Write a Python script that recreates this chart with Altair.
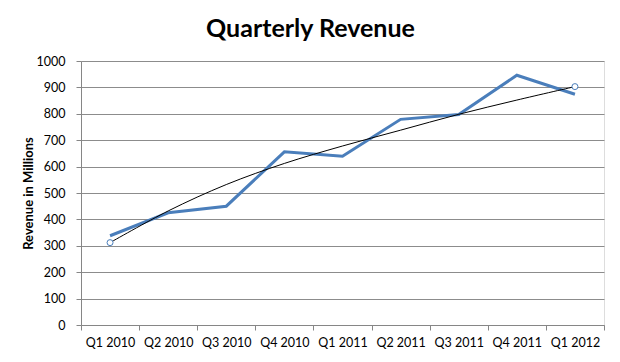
import altair as alt
import pandas as pd

quarters = ["Q1 2010", "Q2 2010", "Q3 2010", "Q4 2010", "Q1 2011",
            "Q2 2011", "Q3 2011", "Q4 2011", "Q1 2012"]
revenue = [338, 425, 450, 656, 639, 779, 797, 946, 874]
trend = [312, 432, 532, 612, 678, 738, 798, 852, 903]
trend_marker_quarters = ["Q1 2010", "Q1 2012"]
trend_marker_values = [312, 903]

rev_df = pd.DataFrame({"quarter": quarters, "value": revenue})
trend_df = pd.DataFrame({"quarter": quarters, "value": trend})
mark_df = pd.DataFrame({"quarter": trend_marker_quarters, "value": trend_marker_values})

FONT = "Lato"

x_enc = alt.X("quarter:N", sort=quarters,
              scale=alt.Scale(type="band", paddingInner=0, paddingOuter=0),
              axis=alt.Axis(title=None, tickBand="extent", grid=False,
                            domainColor="#868686", tickColor="#868686",
                            tickSize=5, labelPadding=6, labelFontSize=12.5,
                            labelColor="#000000", labelFont=FONT, labelAngle=0))
y_enc = alt.Y("value:Q",
              scale=alt.Scale(domain=[0, 1000], nice=False),
              axis=alt.Axis(title="Revenue in Millions", values=list(range(0, 1001, 100)),
                            format="d",
                            grid=True, gridColor="#8c8c8c", gridWidth=1,
                            domainColor="#868686", tickColor="#868686",
                            tickSize=5, labelPadding=11, labelFontSize=12.5,
                            labelColor="#000000", labelFont=FONT,
                            titleFont=FONT, titleFontSize=13, titleFontWeight="bold",
                            titleColor="#000000", titlePadding=1))

rev_line = alt.Chart(rev_df).mark_line(color="#4a7ebb", strokeWidth=3).encode(x=x_enc, y=y_enc)
trend_line = alt.Chart(trend_df).mark_line(color="#000000", strokeWidth=1,
                                           interpolate="catmull-rom").encode(x=x_enc, y=y_enc)
markers = alt.Chart(mark_df).mark_point(shape="circle", size=36, filled=False,
                                        color="#4a7ebb", strokeWidth=1,
                                        fill="#ffffff", fillOpacity=1).encode(x=x_enc, y=y_enc)

chart = alt.layer(rev_line, trend_line, markers).properties(
    width=523, height=264,
    title=alt.TitleParams("Quarterly Revenue", font=FONT, fontSize=25,
                          fontWeight="bold", color="#000000", anchor="middle",
                          offset=13, dx=-32),
    autosize=alt.AutoSizeParams(type="none"),
    padding={"left": 73, "top": 53, "right": 8, "bottom": 30},
).configure_view(stroke=None).configure(background="#ffffff")

chart.save("out.html", embed_options={"renderer": "svg", "actions": False})
